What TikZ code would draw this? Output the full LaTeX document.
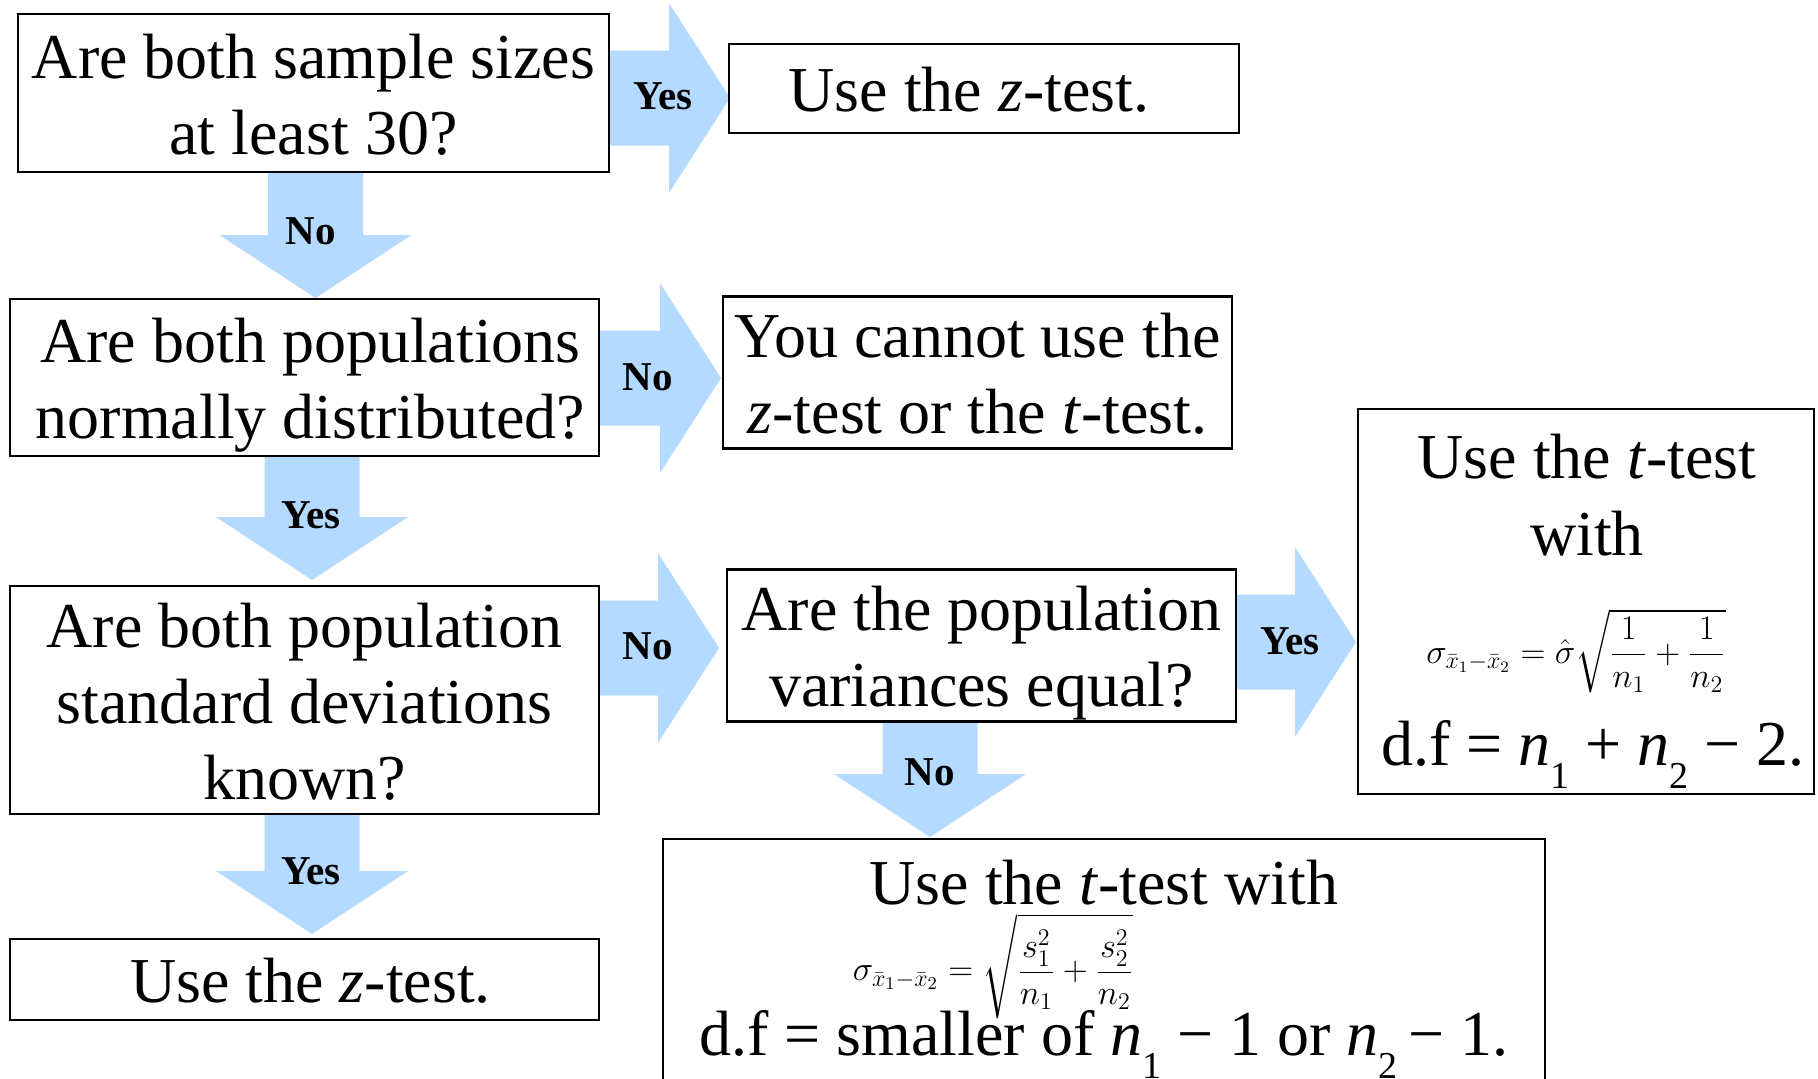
\documentclass[tikz,border=0pt]{standalone}
\usepackage{amsmath}
\usepackage{fontspec}
\setmainfont{Liberation Serif}
\usepackage{xcolor}
\usepackage{tikz}

\definecolor{flowblue}{RGB}{180,218,255}

\newcommand{\boxfont}{\fontsize{32}{38}\selectfont}
\newcommand{\bstrut}{\rule[-7.5pt]{0pt}{38pt}}
\newcommand{\lowsub}[1]{\raisebox{-11.5pt}{\fontsize{19}{19}\selectfont #1}}

% block arrows: tail, tip, middle line
\newcommand{\flowright}[3]{%
    \fill[flowblue] (#1, #3-47.5) -- (#2-61, #3-47.5) -- (#2-61, #3-95) -- (#2, #3)
        -- (#2-61, #3+95) -- (#2-61, #3+47.5) -- (#1, #3+47.5) -- cycle;}
\newcommand{\flowdown}[3]{%
    \fill[flowblue] (#3-47.5, #1) -- (#3+47.5, #1) -- (#3+47.5, #2-63) -- (#3+96, #2-63)
        -- (#3, #2) -- (#3-96, #2-63) -- (#3-47.5, #2-63) -- cycle;}

\tikzset{
    box/.style = {draw, fill = white, line width = 1.3pt, align = center,
        inner sep = 0pt, font = \boxfont},
    flowlabel/.style = {inner sep = 0pt, font = \fontsize{20.5}{24}\selectfont\bfseries},
    boxtext/.style = {inner sep = 0pt, anchor = base, font = \boxfont}
}

\begin{document}
\begin{tikzpicture}[x = 0.5pt, y = -0.5pt]
        \useasboundingbox (0, 0) rectangle (1818, 1078);
        \clip (0, 0) rectangle (1818, 1078);

        \flowright{600}{730}{98}
        \flowdown{165}{298}{315.5}
        \flowright{590}{721}{378}
        \flowdown{450}{580}{312}
        \flowright{590}{719}{648}
        \flowright{1230}{1356}{642}
        \flowdown{712}{837}{930}
        \flowdown{805}{934}{312}

        \node[box, minimum width = 295.5pt, minimum height = 79pt] (sizes) at (313.5, 93)
            {\bstrut Are both sample sizes\\\bstrut at least 30?};
        \node[box, minimum width = 255pt, minimum height = 44.5pt] (ztest1) at (984, 88.5)
            {\bstrut Use the \textit{z}-test.\hspace*{15pt}};
        \node[box, minimum width = 294.5pt, minimum height = 78.5pt] (normal) at (304.5, 377.5)
            {\hspace*{6pt}\bstrut Are both populations\\\hspace*{6pt}\bstrut normally distributed?};
        \node[box, minimum width = 254.5pt, minimum height = 73.5pt] (cannot) at (977.5, 372.5)
            {\bstrut You cannot use the\\\bstrut\textit{z}-test or the \textit{t}-test.};
        \node[box, minimum width = 294.5pt, minimum height = 112pt] (known) at (304.5, 700)
            {\bstrut Are both population\\\bstrut standard deviations\\\bstrut known?};
        \node[box, minimum width = 254.5pt, minimum height = 73.5pt] (equal) at (981.5, 645.5)
            {\bstrut Are the population\\\bstrut variances equal?};
        \node[box, minimum width = 228pt, minimum height = 192.5pt] (pooled) at (1586, 601.5) {};
        \node[box, minimum width = 441pt, minimum height = 130.5pt] (unpooled) at (1104, 969.5) {};
        \node[box, minimum width = 294.5pt, minimum height = 40.5pt] (ztest2) at (304.5, 979.5)
            {\hspace*{6pt}\bstrut Use the \textit{z}-test.};

        % text of the two t-test boxes
        \node[boxtext] (pooledA) at (1587, 478) {Use the \textit{t}-test};
        \node[boxtext] (pooledB) at (1587, 555) {with};
        \node[inner sep = 0pt] (pooledF) at (1576, 651)
            {\fontsize{17}{20}\selectfont
            $\displaystyle\sigma_{\bar{x}_1-\bar{x}_2}=\hat{\sigma}\sqrt{\frac{1}{n_1}+\frac{1}{n_2}}$};
        \node[boxtext] (pooledC) at (1593, 765)
            {d.f = \textit{n}\lowsub{1} + \textit{n}\lowsub{2} − 2.};

        \node[boxtext] (unpooledA) at (1104, 904) {Use the \textit{t}-test with};
        \node[inner sep = 0pt] (unpooledF) at (993, 966)
            {\fontsize{17.3}{20}\selectfont
            $\displaystyle\sigma_{\bar{x}_1-\bar{x}_2}=\sqrt{\frac{s_1^2}{n_1}+\frac{s_2^2}{n_2}}$};
        \node[boxtext] (unpooledC) at (1104, 1055)
            {d.f = smaller of \textit{n}\lowsub{1} − 1 or \textit{n}\lowsub{2}\,− 1.};

        % arrow labels
        \node[flowlabel] (yes1) at (663, 96) {Yes};
        \node[flowlabel] (no1) at (311, 231) {No};
        \node[flowlabel] (no2) at (648, 377) {No};
        \node[flowlabel] (yes2) at (311, 515) {Yes};
        \node[flowlabel] (no3) at (648, 646) {No};
        \node[flowlabel] (yes3) at (1290, 641) {Yes};
        \node[flowlabel] (no4) at (930, 772) {No};
        \node[flowlabel] (yes4) at (311, 871) {Yes};
    \end{tikzpicture}
\end{document}
